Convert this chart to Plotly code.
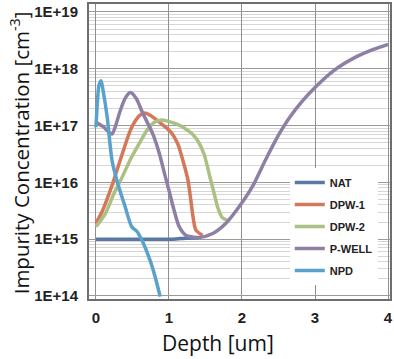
import plotly.graph_objects as go

# ---- data (depth in um, concentration in cm^-3) ----
nat_x = [0.0, 0.5, 1.0, 1.1, 1.2, 1.3, 1.4]
nat_y = [1.0e15, 1.0e15, 1.0e15, 1.01e15, 1.03e15, 1.05e15, 1.06e15]

dpw1_x = [0.0, 0.09, 0.18, 0.245, 0.36, 0.49, 0.60, 0.67, 0.73, 0.87, 1.03, 1.12, 1.19, 1.26, 1.30, 1.33, 1.37, 1.46]
dpw1_log = [15.28, 15.5, 15.8, 16.04, 16.5, 16.97, 17.18, 17.22, 17.19, 17.06, 16.88, 16.68, 16.39, 16.04, 15.68, 15.39, 15.16, 15.07]

dpw2_x = [0.0, 0.13, 0.245, 0.34, 0.49, 0.60, 0.70, 0.80, 0.90, 1.0, 1.1, 1.22, 1.32, 1.40, 1.48, 1.56, 1.62, 1.67, 1.73, 1.80]
dpw2_log = [15.22, 15.45, 15.8, 16.04, 16.45, 16.7, 16.92, 17.06, 17.1, 17.07, 17.03, 16.95, 16.85, 16.72, 16.5, 16.1, 15.8, 15.55, 15.38, 15.33]

pwell_x = [0.0, 0.1, 0.18, 0.22, 0.27, 0.33, 0.40, 0.47, 0.55, 0.64, 0.78, 0.87, 0.94, 1.0, 1.07, 1.14, 1.23, 1.32, 1.41, 1.6,
           1.78, 1.96, 2.14, 2.32, 2.5, 2.64, 2.82, 3.0, 3.27, 3.55, 3.8, 4.0]
pwell_log = [17.06, 16.98, 16.88, 16.85, 17.0, 17.25, 17.48, 17.58, 17.48, 17.22, 16.85, 16.5, 16.15, 15.86, 15.51, 15.22, 15.07, 15.04, 15.03, 15.1,
             15.28, 15.57, 15.92, 16.39, 16.83, 17.12, 17.42, 17.67, 17.98, 18.2, 18.34, 18.43]

npd_x = [0.0, 0.02, 0.04, 0.07, 0.10, 0.154, 0.22, 0.29, 0.40, 0.49, 0.56, 0.63, 0.74, 0.81, 0.88]
npd_log = [16.97, 17.4, 17.7, 17.79, 17.6, 17.15, 16.39, 16.02, 15.57, 15.22, 15.14, 14.98, 14.63, 14.34, 13.99]

names = ["NAT", "DPW-1", "DPW-2", "P-WELL", "NPD"]
colors = ["#5A78A5", "#D4785A", "#ABC183", "#8E7FA5", "#5AA2CB"]

ytick_vals = [1e14, 1e15, 1e16, 1e17, 1e18, 1e19]
ytick_text = ["1E+14", "1E+15", "1E+16", "1E+17", "1E+18", "1E+19"]
xtick_vals = [0, 1, 2, 3, 4]
xtick_text = ["0", "1", "2", "3", "4"]

minor_vals = [k * 10 ** n for n in range(14, 19) for k in range(2, 10)]

series = [
    (nat_x, nat_y),
    (dpw1_x, [10 ** v for v in dpw1_log]),
    (dpw2_x, [10 ** v for v in dpw2_log]),
    (pwell_x, [10 ** v for v in pwell_log]),
    (npd_x, [10 ** v for v in npd_log]),
]

fig = go.Figure()
for (xs, ys), name, col in zip(series, names, colors):
    fig.add_trace(go.Scatter(
        x=xs, y=ys, name=name, mode="lines", legendgroup=name,
        line=dict(color=col, width=3.5, shape="spline", smoothing=0.8),
    ))

fig.update_layout(
    width=394, height=359,
    margin=dict(l=89, r=2, t=4, b=60),
    paper_bgcolor="white", plot_bgcolor="white",
    showlegend=True,
    legend=dict(
        x=0.667, y=0.444, xanchor="left", yanchor="top",
        bgcolor="white", borderwidth=0, tracegroupgap=3,
        font=dict(family="Liberation Sans", size=11, color="#222", weight="bold"),
        itemwidth=30,
    ),
    annotations=[
        dict(text="Depth [um]", x=0.427, y=-0.149, xref="paper", yref="paper",
             xanchor="center", yanchor="middle", showarrow=False,
             font=dict(family="Open Sans", size=21, color="#111")),
        dict(text="Impurity Concentration [cm<sup>-3</sup>]", x=-0.228, y=0.495,
             xref="paper", yref="paper", textangle=-90,
             xanchor="center", yanchor="middle", showarrow=False,
             font=dict(family="Open Sans", size=20.5, color="#111")),
    ],
)

fig.update_xaxes(
    range=[-0.095, 4.027], tickmode="array", tickvals=xtick_vals, ticktext=xtick_text,
    showgrid=True, gridcolor="#8f8f8f", gridwidth=1, zeroline=False,
    showline=True, linecolor="#6e6e6e", linewidth=2, mirror=True,
    ticks="", ticklabelstandoff=4,
    tickfont=dict(family="Liberation Sans", size=15, color="#222", weight="bold"),
)
fig.update_yaxes(
    type="log", range=[13.947, 19.14], tickmode="array", tickvals=ytick_vals, ticktext=ytick_text,
    showgrid=True, gridcolor="#9a9a9a", gridwidth=1, zeroline=False,
    showline=True, linecolor="#6e6e6e", linewidth=2, mirror=True,
    ticks="", ticklabelstandoff=6,
    tickfont=dict(family="Liberation Sans", size=15, color="#222", weight="bold"),
    minor=dict(tickmode="array", tickvals=minor_vals, showgrid=True, gridcolor="#d6d6d6", gridwidth=1),
)

fig.write_html("out.html")
